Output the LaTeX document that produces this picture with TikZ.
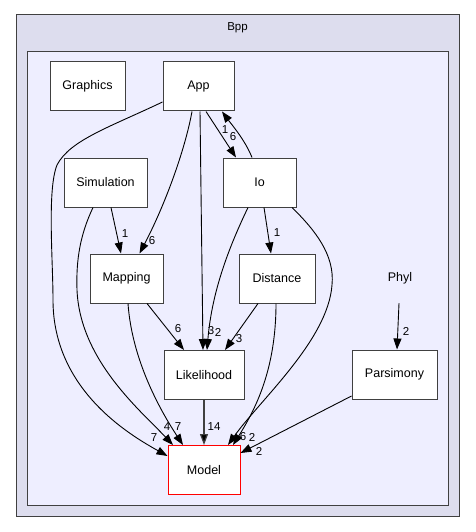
\documentclass[tikz,border=0pt]{standalone}
\usepackage{fontspec}
\setmainfont{Liberation Sans}
\usetikzlibrary{arrows.meta}
\definecolor{outerfill}{HTML}{DDDDEE}
\definecolor{innerfill}{HTML}{EEEEFF}
\definecolor{frame}{HTML}{404040}
\begin{document}
\begin{tikzpicture}[x=1pt,y=-1pt,
  cluster/.style={draw=frame, line width=1pt},
  dirbox/.style={draw=frame, line width=1pt, fill=white, minimum height=49pt, inner sep=0pt, font=\fontsize{12.5}{15}\selectfont},
  plain/.style={minimum height=49pt, minimum width=60pt, inner sep=0pt, font=\fontsize{12.5}{15}\selectfont},
  edge/.style={draw=black, line width=0.9pt, -{Triangle[length=11pt,width=8pt]}},
  lbl/.style={font=\fontsize{11.5}{13}\selectfont, inner sep=0pt}]
\useasboundingbox (0,0) rectangle (475,532);
\draw[cluster, fill=outerfill] (16,15) rectangle (459,516);
\node[lbl] (bpp) at (237.5,28) {Bpp};
\draw[cluster, fill=innerfill] (27,52) rectangle (448,505);

\node[dirbox, minimum width=75pt] (Graphics) at (87.5,86.5) {Graphics};
\node[dirbox, minimum width=71pt] (App) at (198.5,86.5) {App};
\node[dirbox, minimum width=83pt] (Simulation) at (105.5,182.5) {Simulation};
\node[dirbox, minimum width=73pt] (Io) at (259.5,182.5) {Io};
\node[dirbox, minimum width=73pt] (Mapping) at (126.5,278.5) {Mapping};
\node[dirbox, minimum width=76pt] (Distance) at (277,278.5) {Distance};
\node[plain] (Phyl) at (400,278.5) {Phyl};
\node[dirbox, minimum width=80pt] (Likelihood) at (204,375) {Likelihood};
\node[dirbox, minimum width=85pt] (Parsimony) at (394.5,374.5) {Parsimony};
\node[dirbox, minimum width=72pt, draw=red] (Model) at (204,470) {Model};

% App -> Model
\draw[edge] ([yshift=-15.5]App.west) .. controls (110,127) and (70,140) .. (57,165)
  .. controls (47,190) and (53,260) .. (53,300)
  .. controls (53,390) and (130,435) .. ([yshift=14]Model.west);
\node[lbl] (l1) at (154,438) {7};
% App -> Mapping
\draw[edge] ([xshift=-6.5]App.south) .. controls (185,150) and (165,205) .. ([xshift=13]Mapping.north);
\node[lbl] (l2) at (152,241) {6};
% App -> Likelihood
\draw[edge] ([xshift=1.5]App.south) -- ([xshift=-1]Likelihood.north);
\node[lbl] (l3) at (211,331) {3};
% App -> Io
\draw[edge] ([xshift=7.5]App.south) -- ([xshift=-23.5]Io.north);
\node[lbl] (l4) at (225,130) {1};
% Io -> App
\draw[edge] ([xshift=-7.5]Io.north) .. controls (245,140) and (232,125) .. ([xshift=23.5]App.south);
\node[lbl] (l5) at (233,137) {6};
% Simulation -> Mapping
\draw[edge] ([xshift=5.5]Simulation.south) -- ([xshift=-5.5]Mapping.north);
\node[lbl] (l6) at (125,234) {1};
% Simulation -> Model
\draw[edge] ([xshift=-12.5]Simulation.south) .. controls (80,235) and (76,260) .. (77,290)
  .. controls (80,360) and (140,410) .. ([xshift=-31]Model.north);
\node[lbl] (l7) at (167,427) {4};
% Mapping -> Model
\draw[edge] ([xshift=1.5]Mapping.south) .. controls (132,360) and (160,410) .. ([xshift=-21]Model.north);
\node[lbl] (l8) at (178,427) {7};
% Mapping -> Likelihood
\draw[edge] ([xshift=20.5]Mapping.south) -- ([xshift=-20]Likelihood.north);
\node[lbl] (l9) at (178,329) {6};
% Io -> Distance
\draw[edge] ([xshift=4.5]Io.south) -- ([xshift=-6]Distance.north);
\node[lbl] (l10) at (277,233) {1};
% Io -> Likelihood
\draw[edge] ([xshift=-11.5]Io.south) .. controls (230,245) and (212,290) .. ([xshift=3]Likelihood.north);
\node[lbl] (l11) at (218,332) {2};
% Io -> Model
\draw[edge] ([xshift=32.5]Io.south) .. controls (315,230) and (335,255) .. (332,285)
  .. controls (328,340) and (260,400) .. ([xshift=24]Model.north);
\node[lbl] (l12) at (243,437) {6};
% Distance -> Likelihood
\draw[edge] ([xshift=-19]Distance.south) -- ([xshift=21]Likelihood.north);
\node[lbl] (l13) at (239,339) {3};
% Distance -> Model
\draw[edge] ([xshift=-1]Distance.south) .. controls (276,370) and (255,410) .. ([xshift=29]Model.north);
\node[lbl] (l14) at (252,437) {2};
% Likelihood -> Model
\draw[edge, draw=frame, line width=1.2pt, -{Triangle[length=11pt,width=8pt,fill=black]}] (Likelihood.south) -- (Model.north);
\node[lbl] (l15) at (214,427) {14};
% Phyl -> Parsimony
\draw[edge] ([xshift=-1]Phyl.south) -- ([xshift=2.5]Parsimony.north);
\node[lbl] (l16) at (406,331) {2};
% Parsimony -> Model
\draw[edge] ([yshift=-21.5]Parsimony.west) -- ([yshift=17]Model.east);
\node[lbl] (l17) at (259,451) {2};
\end{tikzpicture}
\end{document}
